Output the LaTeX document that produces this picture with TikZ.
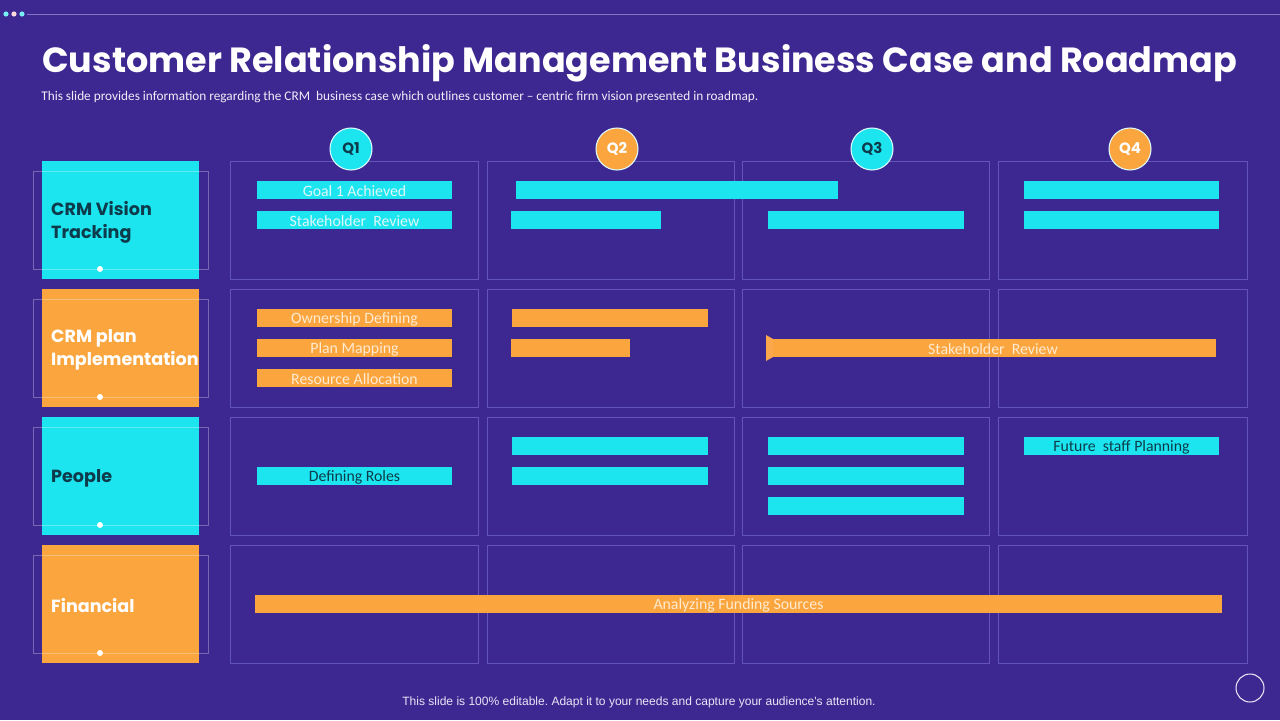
\documentclass[tikz,border=0pt]{standalone}
\usepackage{fontspec}
\setmainfont{Carlito}
\newfontfamily\gothic{Poppins}
\newfontfamily\arialfont{Liberation Sans}
\usetikzlibrary{positioning}

\definecolor{slidebg}{HTML}{3D2891}
\definecolor{cellline}{HTML}{6354B9}
\definecolor{cyanbar}{HTML}{1CE5EF}
\definecolor{orangebar}{HTML}{FBA53F}
\definecolor{darktxt}{HTML}{0E3B4B}
\definecolor{lighttxt}{HTML}{DDF7F8}
\definecolor{creamtxt}{HTML}{FFEBD0}

\frenchspacing
\begin{document}
\begin{tikzpicture}[x=0.02cm, y=-0.02cm,
  cell/.style={draw=cellline, line width=0.5pt},
  rowbox/.style={minimum width=3.14cm, minimum height=2.36cm, inner sep=0pt},
  rowlabel/.style={anchor=west, align=left, font=\gothic\bfseries\fontsize{10}{13}\selectfont},
  qdot/.style={circle, draw=white!85!cyanbar, line width=0.6pt, minimum size=0.84cm, inner sep=0pt, font=\gothic\bfseries\fontsize{8.5}{10}\selectfont},
  bartext/.style={font=\fontsize{9}{10}\selectfont, inner sep=0pt, yshift=-0.5pt}]

% slide background and margins
\fill[slidebg] (0,0) rectangle (1280,720);
\useasboundingbox (0,0) rectangle (1280,720);

% top rule with the three dots
\draw[cellline!80!white, line width=0.4pt] (27,14) -- (1280,14);
\foreach \dx/\dc in {6/cyanbar!60!white, 14/pink!60!white, 22/cyanbar!60!white}
  \fill[\dc] (\dx,14) circle (2.6);

% heading
\node[anchor=base west, inner sep=0pt, text=white, font=\gothic\bfseries\fontsize{19.9}{24}\selectfont] (title) at (42,72)
  {Customer Relationship Management Business Case and Roadmap};
\node[anchor=base west, inner sep=0pt, text=white!90!cellline, font=\fontsize{7.55}{9}\selectfont] (subtitle) at (41,100)
  {This slide provides information regarding the CRM\ \ business case which outlines customer -- centric firm vision presented in roadmap.};

% quarter grid
\foreach \xa/\xb in {230/478, 487/734, 742/989, 998/1247}
  \foreach \ya in {161, 289, 417, 545}
    \draw[cell] (\xa,\ya) rectangle (\xb,\ya+118);

% quarter markers
\node[qdot, fill=cyanbar, text=darktxt] (q1) at (351,149) {Q1};
\node[qdot, fill=orangebar, text=white] (q2) at (617,149) {Q2};
\node[qdot, fill=cyanbar, text=darktxt] (q3) at (872,149) {Q3};
\node[qdot, fill=orangebar, text=white] (q4) at (1130,149) {Q4};

% row headings
\foreach \r/\ya/\col/\txt/\lab in {
    vision/161/cyanbar/darktxt/{CRM Vision\\Tracking},
    plan/289/orangebar/white/{CRM plan\\Implementation},
    people/417/cyanbar/darktxt/People,
    money/545/orangebar/white/Financial} {
  \node[rowbox, fill=\col] (\r box) at (120.5,\ya+59) {};
  \draw[white, opacity=0.3, line width=0.4pt] (33,\ya+10) rectangle (208,\ya+108);
  \fill[white] (100,\ya+108) circle (3);
  \node[rowlabel, text=\txt] (\r) at (45,\ya+61) {\lab};
}

% bars
\foreach \n/\xa/\ya/\xb/\col/\txt/\lab in {
    goal/257/181/452/cyanbar/lighttxt/Goal 1 Achieved,
    stake/257/211/452/cyanbar/lighttxt/Stakeholder\ \ Review,
    vtwoa/516/181/838/cyanbar/lighttxt/{},
    vtwob/511/211/661/cyanbar/lighttxt/{},
    vthree/768/211/964/cyanbar/lighttxt/{},
    vfoura/1024/181/1219/cyanbar/lighttxt/{},
    vfourb/1024/211/1219/cyanbar/lighttxt/{},
    owner/257/309/452/orangebar/creamtxt/Ownership Defining,
    mapping/257/339/452/orangebar/creamtxt/Plan Mapping,
    resource/257/369/452/orangebar/creamtxt/Resource Allocation,
    ptwoa/512/309/708/orangebar/creamtxt/{},
    ptwob/511/339/630/orangebar/creamtxt/{},
    review/770/339/1216/orangebar/creamtxt/Stakeholder\ \ Review,
    roles/257/467/452/cyanbar/darktxt/Defining Roles,
    ptwo/512/437/708/cyanbar/darktxt/{},
    ptwoc/512/467/708/cyanbar/darktxt/{},
    pthreea/768/437/964/cyanbar/darktxt/{},
    pthreeb/768/467/964/cyanbar/darktxt/{},
    pthreec/768/497/964/cyanbar/darktxt/{},
    future/1024/437/1219/cyanbar/darktxt/Future\ \ staff Planning,
    funding/255/595/1222/orangebar/creamtxt/Analyzing Funding Sources}
  \fill[\col] (\xa,\ya) rectangle (\xb,\ya+18) node[midway, bartext, text=\txt] (\n) {\lab};

% flag at the start of the long review bar
\fill[orangebar!90!pink] (766,335) -- (773,339) -- (773,357) -- (766,361) -- cycle;

% footer
\node[text=white!85!cellline, font=\arialfont\fontsize{6.85}{8}\selectfont] (footer) at (639,702)
  {This slide is 100\% editable. Adapt it to your needs and capture your audience's attention.};
\node[circle, draw=white!85!cellline, line width=0.6pt, minimum size=0.56cm, inner sep=0pt] (corner) at (1250,688) {};
\end{tikzpicture}
\end{document}
